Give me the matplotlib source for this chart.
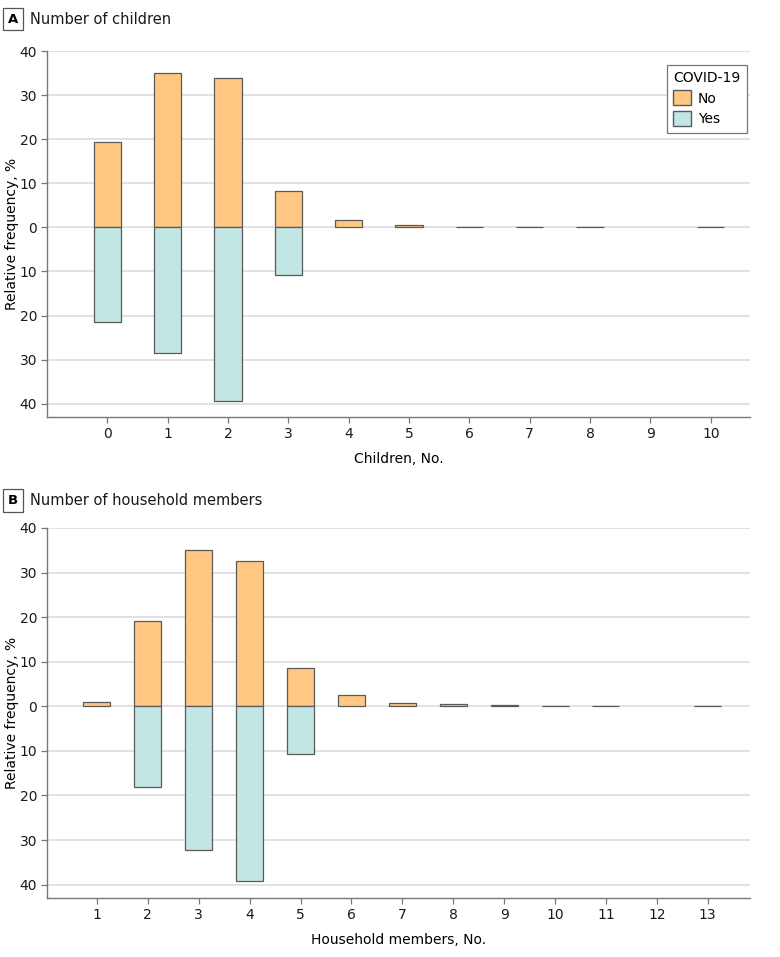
import numpy as np
import matplotlib
matplotlib.use("Agg")
import matplotlib.pyplot as plt
from matplotlib.patches import Patch

plt.rcParams['font.family'] = ['DejaVu Sans']

# Panel A: number of children
children = [0, 1, 2, 3, 4, 5, 6, 7, 8, 9, 10]
children_no = [19.3, 35.1, 33.8, 8.3, 1.7, 0.5, 0.1, 0.1, 0.1, 0.0, 0.1]
children_yes = [21.5, 28.6, 39.4, 10.8, 0.0, 0.0, 0.0, 0.0, 0.0, 0.0, 0.0]

# Panel B: number of household members
members = [1, 2, 3, 4, 5, 6, 7, 8, 9, 10, 11, 12, 13]
members_no = [0.9, 19.1, 35.0, 32.5, 8.6, 2.5, 0.7, 0.5, 0.2, 0.05, 0.05, 0.0, 0.05]
members_yes = [0.0, 18.0, 32.3, 39.3, 10.8, 0.0, 0.0, 0.0, 0.0, 0.0, 0.0, 0.0, 0.0]

yticks = [-40, -30, -20, -10, 0, 10, 20, 30, 40]
ytick_labels = ['40', '30', '20', '10', '0', '10', '20', '30', '40']

NO_COLOR = '#ffc781'
YES_COLOR = '#c1e6e4'
EDGE = '#5a5a5a'


def draw_panel(ax, x, no_vals, yes_vals, width, xlim, xlabel):
    x = np.array(x)
    no_vals = np.array(no_vals)
    yes_vals = np.array(yes_vals)
    for v in yticks:
        ax.axhline(v, color='#dddddd', lw=1.2, zorder=0)
    m = no_vals > 0
    ax.bar(x[m], no_vals[m], width=width, color=NO_COLOR, edgecolor=EDGE,
           linewidth=0.9, zorder=3)
    m = yes_vals > 0
    ax.bar(x[m], -yes_vals[m], width=width, color=YES_COLOR, edgecolor=EDGE,
           linewidth=0.9, zorder=3)
    ax.set_xlim(*xlim)
    ax.set_ylim(-43, 40)
    ax.set_xticks(x)
    ax.set_xticklabels([str(v) for v in x], fontsize=10)
    ax.set_yticks(yticks)
    ax.set_yticklabels(ytick_labels, fontsize=10)
    ax.set_xlabel(xlabel, fontsize=10, labelpad=8)
    ax.set_ylabel('Relative frequency, %', fontsize=10)
    ax.yaxis.set_label_coords(-0.04, 0.5)
    for s in ['top', 'right']:
        ax.spines[s].set_visible(False)
    for s in ['left', 'bottom']:
        ax.spines[s].set_color('#777777')
        ax.spines[s].set_linewidth(1.0)
    ax.tick_params(axis='both', color='#777777', length=4, width=0.9,
                   labelcolor='#1a1a1a', pad=3)


fig = plt.figure(figsize=(7.8, 9.57), dpi=100)

ax1 = fig.add_axes([0.0603, 0.5643, 0.9012, 0.3824])
draw_panel(ax1, children, children_no, children_yes, 0.45, (-1.0, 10.65),
           'Children, No.')
handles = [Patch(facecolor=NO_COLOR, edgecolor=EDGE, label='No'),
           Patch(facecolor=YES_COLOR, edgecolor=EDGE, label='Yes')]
leg = ax1.legend(handles=handles, title='COVID-19', loc='upper right',
                 bbox_to_anchor=(1.005, 0.982), fontsize=10, title_fontsize=10,
                 fancybox=False, edgecolor='#777777', framealpha=1,
                 handlelength=1.3, handleheight=1.3, borderpad=0.45,
                 labelspacing=0.4, handletextpad=0.5)
leg.get_frame().set_linewidth(0.9)
leg._legend_box.align = 'left'

ax2 = fig.add_axes([0.0603, 0.0617, 0.9012, 0.3866])
draw_panel(ax2, members, members_no, members_yes, 0.53, (0.02, 13.83),
           'Household members, No.')

# panel headers
for ypos, letter, title in [(0.980, 'A', 'Number of children'),
                            (0.477, 'B', 'Number of household members')]:
    fig.text(0.0165, ypos, letter, fontsize=9.5, fontweight='bold',
             va='center', ha='center',
             bbox=dict(boxstyle='square,pad=0.35', fc='white', ec='#555555',
                       lw=0.9))
    fig.text(0.039, ypos, title, fontsize=10.5, va='center', ha='left',
             color='#1a1a1a')

fig.savefig('out.png', dpi=100)
